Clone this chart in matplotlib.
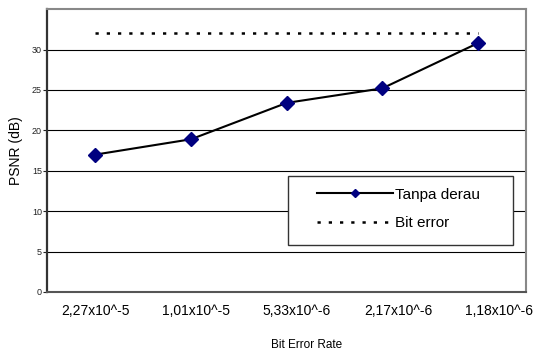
import numpy as np
import matplotlib
matplotlib.use("Agg")
import matplotlib.pyplot as plt
from matplotlib.patches import Rectangle
from matplotlib.transforms import ScaledTranslation

plt.rcParams['font.family'] = ['Liberation Sans', 'DejaVu Sans']

# data
ber_labels = ["2,27x10^-5", "1,01x10^-5", "5,33x10^-6", "2,17x10^-6", "1,18x10^-6"]
psnr_tanpa_derau = [17.0, 18.9, 23.4, 25.2, 30.8]
psnr_bit_error = [32.0, 32.0, 32.0, 32.0, 32.0]
y_ticks = [0, 5, 10, 15, 20, 25, 30]


def main():
    fig = plt.figure(figsize=(5.36, 3.52), dpi=100)
    ax = fig.add_axes([0.0886, 0.1705, 0.8924, 0.8035])

    x = np.arange(len(ber_labels))
    ax.plot(x, psnr_tanpa_derau, color='black', lw=1.5, marker='D',
            markersize=7, markerfacecolor='#000080', markeredgecolor='#000080',
            label='Tanpa derau', zorder=3)
    ax.plot(x, psnr_bit_error, color='black', lw=1.8, linestyle=(0, (1.3, 3.2)),
            dash_capstyle='butt', label='Bit error', zorder=3)

    ax.set_xlim(-0.5, 4.5)
    ax.set_ylim(0, 35)
    ax.set_yticks(y_ticks)
    ax.set_yticklabels([str(v) for v in y_ticks], fontsize=6.5)
    ax.set_xticks(x)
    ax.set_xticklabels(ber_labels, fontsize=10)
    ax.tick_params(axis='x', length=0, pad=9)
    ax.tick_params(axis='y', length=3, width=0.8, pad=1, colors='#222222')

    # shift category labels a bit to the right like the original
    for i, lab in enumerate(ax.get_xticklabels()):
        lab.set_transform(lab.get_transform() +
                          ScaledTranslation(i * 0.052, 0, fig.dpi_scale_trans))

    ax.yaxis.grid(True, color='black', lw=0.8)
    ax.set_axisbelow(True)
    for side in ['top', 'right']:
        ax.spines[side].set_color('#888888')
        ax.spines[side].set_linewidth(1.5)
    ax.spines['left'].set_color('#333333')
    ax.spines['left'].set_linewidth(1.6)
    ax.spines['bottom'].set_color('#555555')
    ax.spines['bottom'].set_linewidth(1.5)

    # legend frame + legend
    ax.add_patch(Rectangle((0.503, 0.167), 0.470, 0.242, transform=ax.transAxes,
                           facecolor='white', edgecolor='#333333', lw=1.0, zorder=4))
    leg = ax.legend(loc='upper left', bbox_to_anchor=(0.539, 0.409), frameon=False,
                    fontsize=11, handlelength=5.0, handletextpad=0.1,
                    labelspacing=0.95, borderpad=0.75, borderaxespad=0,
                    markerscale=0.6)
    leg.set_zorder(5)

    fig.text(16 / 536, 1 - 151 / 352, "PSNR (dB)", rotation=90, fontsize=10,
             ha='center', va='center')
    fig.text(307 / 536, 7 / 352, "Bit Error Rate", fontsize=8.5,
             ha='center', va='center')

    plt.savefig("out.png", dpi=100)
    plt.clf()


if __name__ == '__main__':
    main()
